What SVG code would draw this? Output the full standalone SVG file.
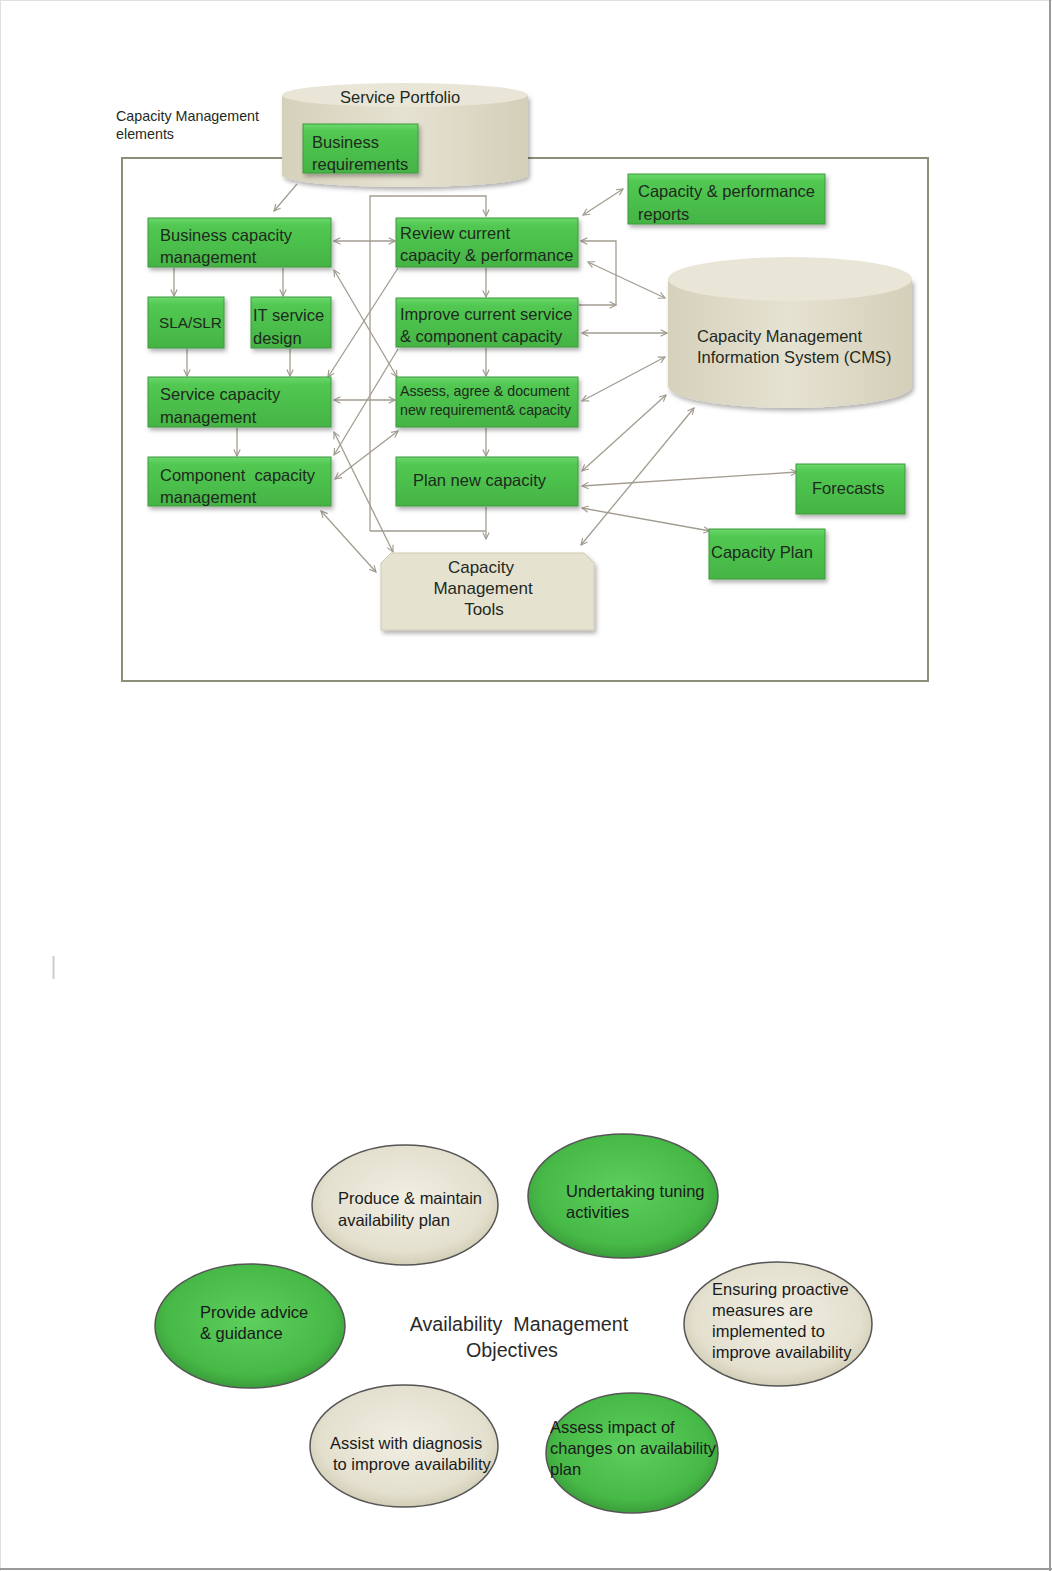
<svg xmlns="http://www.w3.org/2000/svg" width="1052" height="1571" viewBox="0 0 1052 1571">
<defs>
<linearGradient id="gGreen" x1="0" y1="0" x2="0" y2="1">
<stop offset="0" stop-color="#6cd86c"/>
<stop offset="0.15" stop-color="#52c852"/>
<stop offset="1" stop-color="#44b444"/>
</linearGradient>
<linearGradient id="gBeige" x1="0" y1="0" x2="1" y2="0">
<stop offset="0" stop-color="#d6d1bb"/>
<stop offset="0.5" stop-color="#e6e2d2"/>
<stop offset="1" stop-color="#d4cfb8"/>
</linearGradient>
<radialGradient id="rGreen" cx="0.5" cy="0.45" r="0.55">
<stop offset="0" stop-color="#5ccf5c"/>
<stop offset="0.8" stop-color="#47b947"/>
<stop offset="1" stop-color="#3a9e3a"/>
</radialGradient>
<radialGradient id="rBeige" cx="0.5" cy="0.45" r="0.55">
<stop offset="0" stop-color="#f1eee3"/>
<stop offset="0.8" stop-color="#e4e0cf"/>
<stop offset="1" stop-color="#d2cdb5"/>
</radialGradient>
<filter id="sh" x="-10%" y="-10%" width="130%" height="140%">
<feDropShadow dx="2" dy="3" stdDeviation="2" flood-color="#000" flood-opacity="0.3"/>
</filter>
<marker id="ah" viewBox="0 0 10 10" refX="9" refY="5" markerWidth="8" markerHeight="8" markerUnits="userSpaceOnUse" orient="auto-start-reverse">
<path d="M1,1 L9,5 L1,9" fill="none" stroke="#9f998c" stroke-width="1.4"/>
</marker>
<style>
.t{font-family:"Liberation Sans",Arial,sans-serif;fill:#1e2a1e}
.b{font-size:16.5px}
.s{font-size:14.2px}
.box{fill:url(#gGreen);stroke:#3d9a3d;stroke-width:1;filter:url(#sh)}
.cyl{fill:url(#gBeige)}
.ln{fill:none;stroke:#a39d90;stroke-width:1.3}
.ell{stroke:#555;stroke-width:1.5}
.et{font-family:"Liberation Sans",Arial,sans-serif;font-size:16.5px;fill:#1a1a1a}
</style>
</defs>

<!-- page edges -->
<line x1="0" y1="0.5" x2="1052" y2="0.5" stroke="#e0e0e0" stroke-width="1"/>
<line x1="0.5" y1="0" x2="0.5" y2="1571" stroke="#e0e0e0" stroke-width="1"/>
<line x1="1050" y1="0" x2="1050" y2="1571" stroke="#9a9a9a" stroke-width="2"/>
<line x1="0" y1="1569" x2="1052" y2="1569" stroke="#9a9a9a" stroke-width="2"/>
<line x1="53.5" y1="956" x2="53.5" y2="979" stroke="#cccccc" stroke-width="2"/>

<!-- frame -->
<rect x="122" y="158" width="806" height="523" fill="none" stroke="#8c8e78" stroke-width="2"/>
<text class="t" font-size="14.3" x="116" y="121">Capacity Management</text>
<text class="t" font-size="14.3" x="116" y="139">elements</text>

<g id="connectors">
<line class="ln" x1="297" y1="184" x2="274" y2="211" marker-end="url(#ah)"/>
<line class="ln" x1="334" y1="241" x2="395" y2="241" marker-start="url(#ah)" marker-end="url(#ah)"/>
<path class="ln" d="M370,531 V196 H486 V216" marker-end="url(#ah)"/>
<path class="ln" d="M370,531 H486"/>
<line class="ln" x1="486" y1="507" x2="486" y2="539" marker-end="url(#ah)"/>
<line class="ln" x1="486" y1="268" x2="486" y2="297" marker-end="url(#ah)"/>
<line class="ln" x1="486" y1="348" x2="486" y2="376" marker-end="url(#ah)"/>
<line class="ln" x1="486" y1="428" x2="486" y2="456" marker-end="url(#ah)"/>
<line class="ln" x1="174" y1="268" x2="174" y2="296" marker-end="url(#ah)"/>
<line class="ln" x1="283" y1="268" x2="283" y2="296" marker-end="url(#ah)"/>
<line class="ln" x1="187" y1="349" x2="187" y2="376" marker-end="url(#ah)"/>
<line class="ln" x1="290" y1="349" x2="290" y2="376" marker-end="url(#ah)"/>
<line class="ln" x1="237" y1="428" x2="237" y2="456" marker-end="url(#ah)"/>
<line class="ln" x1="334" y1="400" x2="395" y2="400" marker-start="url(#ah)" marker-end="url(#ah)"/>
<path class="ln" d="M579,305 H616" marker-end="url(#ah)"/>
<path class="ln" d="M616,305 V241 H581" marker-end="url(#ah)"/>
<line class="ln" x1="588" y1="262" x2="665" y2="298" marker-start="url(#ah)" marker-end="url(#ah)"/>
<line class="ln" x1="582" y1="333" x2="667" y2="333" marker-start="url(#ah)" marker-end="url(#ah)"/>
<line class="ln" x1="582" y1="401" x2="665" y2="357" marker-start="url(#ah)" marker-end="url(#ah)"/>
<line class="ln" x1="582" y1="471" x2="666" y2="395" marker-start="url(#ah)" marker-end="url(#ah)"/>
<line class="ln" x1="581" y1="545" x2="694" y2="408" marker-start="url(#ah)" marker-end="url(#ah)"/>
<line class="ln" x1="582" y1="486" x2="797" y2="472" marker-start="url(#ah)" marker-end="url(#ah)"/>
<line class="ln" x1="582" y1="508" x2="710" y2="531" marker-start="url(#ah)" marker-end="url(#ah)"/>
<line class="ln" x1="583" y1="215" x2="623" y2="189" marker-start="url(#ah)" marker-end="url(#ah)"/>
<line class="ln" x1="334" y1="270" x2="397" y2="377" marker-start="url(#ah)" marker-end="url(#ah)"/>
<line class="ln" x1="398" y1="268" x2="328" y2="377" marker-end="url(#ah)"/>
<line class="ln" x1="398" y1="349" x2="334" y2="455" marker-end="url(#ah)"/>
<line class="ln" x1="398" y1="431" x2="335" y2="479" marker-start="url(#ah)" marker-end="url(#ah)"/>
<line class="ln" x1="334" y1="432" x2="393" y2="552" marker-start="url(#ah)" marker-end="url(#ah)"/>
<line class="ln" x1="321" y1="511" x2="376" y2="572" marker-start="url(#ah)" marker-end="url(#ah)"/>
</g>

<g id="service-portfolio">
<path class="cyl" d="M282,95 V175 A123,12 0 0 0 528,175 V95 Z" filter="url(#sh)"/>
<ellipse cx="405" cy="95" rx="123" ry="12" fill="#e9e6d8"/>
<text class="t b" x="340" y="103">Service Portfolio</text>
</g>
<g id="business-requirements">
<rect class="box" x="303" y="124" width="115" height="49"/>
<text class="t b" x="312" y="148">Business</text>
<text class="t b" x="312" y="170">requirements</text>
</g>

<g id="business-capacity">
<rect class="box" x="148" y="218" width="183" height="49"/>
<text class="t b" x="160" y="241">Business capacity</text>
<text class="t b" x="160" y="263">management</text>
</g>
<g id="sla-slr">
<rect class="box" x="148" y="297" width="76" height="51"/>
<text class="t" font-size="15.3" x="159" y="328">SLA/SLR</text>
</g>
<g id="it-service-design">
<rect class="box" x="251" y="297" width="80" height="51"/>
<text class="t b" x="253" y="321">IT service</text>
<text class="t b" x="253" y="344">design</text>
</g>
<g id="service-capacity">
<rect class="box" x="148" y="377" width="183" height="50"/>
<text class="t b" x="160" y="400">Service capacity</text>
<text class="t b" x="160" y="423">management</text>
</g>
<g id="component-capacity">
<rect class="box" x="148" y="457" width="183" height="49"/>
<text class="t b" x="160" y="481">Component&#160; capacity</text>
<text class="t b" x="160" y="503">management</text>
</g>
<g id="review-current">
<rect class="box" x="396" y="218" width="182" height="49"/>
<text class="t b" x="400" y="239">Review current</text>
<text class="t b" x="400" y="261">capacity &amp; performance</text>
</g>
<g id="improve-current">
<rect class="box" x="396" y="298" width="182" height="49"/>
<text class="t b" x="400" y="320">Improve current service</text>
<text class="t b" x="400" y="342">&amp; component capacity</text>
</g>
<g id="assess-agree">
<rect class="box" x="396" y="377" width="182" height="50"/>
<text class="t s" x="400" y="396">Assess, agree &amp; document</text>
<text class="t s" x="400" y="415">new requirement&amp; capacity</text>
</g>
<g id="plan-new-capacity">
<rect class="box" x="396" y="457" width="182" height="49"/>
<text class="t b" x="413" y="486">Plan new capacity</text>
</g>
<g id="capacity-performance-reports">
<rect class="box" x="628" y="174" width="197" height="50"/>
<text class="t b" x="638" y="197">Capacity &amp; performance</text>
<text class="t b" x="638" y="220">reports</text>
</g>
<g id="cms">
<path class="cyl" d="M668,279 V386 A122,22 0 0 0 912,386 V279 Z" filter="url(#sh)"/>
<ellipse cx="790" cy="279" rx="122" ry="22" fill="#e9e6d8"/>
<text class="t b" x="697" y="342">Capacity Management</text>
<text class="t b" x="697" y="363">Information System (CMS)</text>
</g>
<g id="forecasts">
<rect class="box" x="796" y="464" width="109" height="50"/>
<text class="t b" x="812" y="494">Forecasts</text>
</g>
<g id="capacity-plan">
<rect class="box" x="709" y="529" width="116" height="50"/>
<text class="t b" x="711" y="558">Capacity Plan</text>
</g>
<g id="capacity-management-tools">
<path d="M391,553 H584 L594,563 V630 H381 V563 Z" fill="#e6e2d0" stroke="#cfcab4" stroke-width="1" filter="url(#sh)"/>
<text class="t" font-size="17" x="481" y="573" text-anchor="middle">Capacity</text>
<text class="t" font-size="17" x="483" y="594" text-anchor="middle">Management</text>
<text class="t" font-size="17" x="484" y="615" text-anchor="middle">Tools</text>
</g>

<!-- Availability Management Objectives -->
<g id="produce-maintain">
<ellipse class="ell" cx="405" cy="1205" rx="93" ry="60" fill="url(#rBeige)"/>
<text class="et" x="338" y="1204">Produce &amp; maintain</text>
<text class="et" x="338" y="1226">availability plan</text>
</g>
<g id="undertaking-tuning">
<ellipse class="ell" cx="623" cy="1196" rx="95" ry="62" fill="url(#rGreen)"/>
<text class="et" x="566" y="1197">Undertaking tuning</text>
<text class="et" x="566" y="1218">activities</text>
</g>
<g id="provide-advice">
<ellipse class="ell" cx="250" cy="1326" rx="95" ry="62" fill="url(#rGreen)"/>
<text class="et" x="200" y="1318">Provide advice</text>
<text class="et" x="200" y="1339">&amp; guidance</text>
</g>
<g id="ensuring-proactive">
<ellipse class="ell" cx="778" cy="1324" rx="94" ry="62" fill="url(#rBeige)"/>
<text class="et" x="712" y="1295">Ensuring proactive</text>
<text class="et" x="712" y="1316">measures are</text>
<text class="et" x="712" y="1337">implemented to</text>
<text class="et" x="712" y="1358">improve availability</text>
</g>
<g id="assist-diagnosis">
<ellipse class="ell" cx="404" cy="1446" rx="94" ry="61" fill="url(#rBeige)"/>
<text class="et" x="330" y="1449">Assist with diagnosis</text>
<text class="et" x="333" y="1470">to improve availability</text>
</g>
<g id="assess-impact">
<ellipse class="ell" cx="632" cy="1453" rx="86" ry="60" fill="url(#rGreen)"/>
<text class="et" x="550" y="1433">Assess impact of</text>
<text class="et" x="550" y="1454">changes on availability</text>
<text class="et" x="550" y="1475">plan</text>
</g>
<g id="center-title">
<text x="519" y="1331" text-anchor="middle" font-family="Liberation Sans, Arial, sans-serif" font-size="19.7" fill="#2a2a2a">Availability&#160; Management</text>
<text x="512" y="1357" text-anchor="middle" font-family="Liberation Sans, Arial, sans-serif" font-size="19.7" fill="#2a2a2a">Objectives</text>
</g>
</svg>
